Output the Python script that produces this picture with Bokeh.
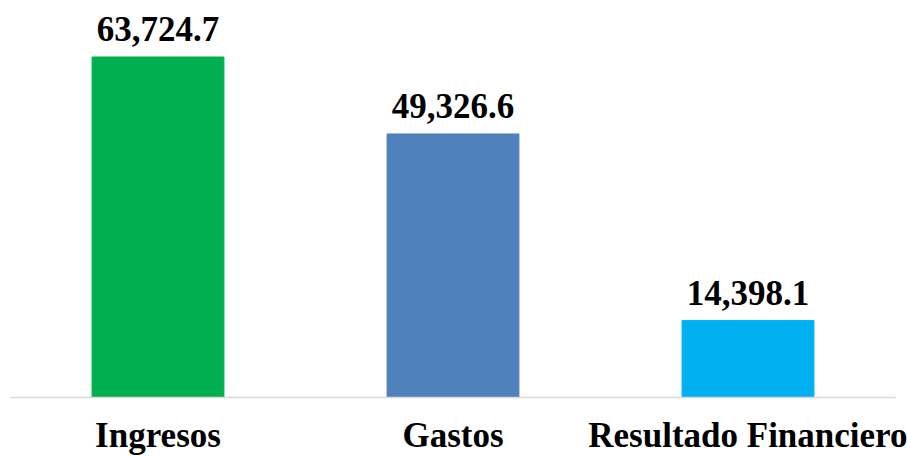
from bokeh.plotting import figure
from bokeh.models import ColumnDataSource, Range1d
from bokeh.core.properties import value
from bokeh.embed import file_html
from bokeh.resources import INLINE

categories = ["Ingresos", "Gastos", "Resultado Financiero"]
values = [63724.7, 49326.6, 14398.1]
colors = ["#00b050", "#4f81bd", "#00b0f0"]
labels = ["63,724.7", "49,326.6", "14,398.1"]

src = ColumnDataSource(dict(cat=categories, val=values, color=colors, label=labels))

p = figure(x_range=categories, y_range=Range1d(0, 74300), width=907, height=457,
           output_backend="svg", toolbar_location=None,
           min_border_left=10, min_border_right=12, min_border_top=0, min_border_bottom=54)
p.x_range.range_padding = 0
p.vbar(x="cat", top="val", width=0.447, color="color", source=src)
p.text(x="cat", y="val", text="label", source=src, text_align="center",
       text_baseline="alphabetic", y_offset=-28,
       text_font=value("Liberation Serif"), text_font_style="bold",
       text_font_size="35px", text_color="#000000")

p.outline_line_color = None
p.grid.visible = False
p.yaxis.visible = False
p.background_fill_color = "white"
p.border_fill_color = "white"
xa = p.xaxis[0]
xa.axis_line_color = "#d9d9d9"
xa.axis_line_width = 1.5
xa.major_tick_line_color = None
xa.minor_tick_line_color = None
xa.major_label_text_font = "Liberation Serif"
xa.major_label_text_font_style = "bold"
xa.major_label_text_font_size = "35px"
xa.major_label_text_color = "#000000"
xa.major_label_standoff = 12

open("out.html", "w").write(file_html(p, INLINE))
